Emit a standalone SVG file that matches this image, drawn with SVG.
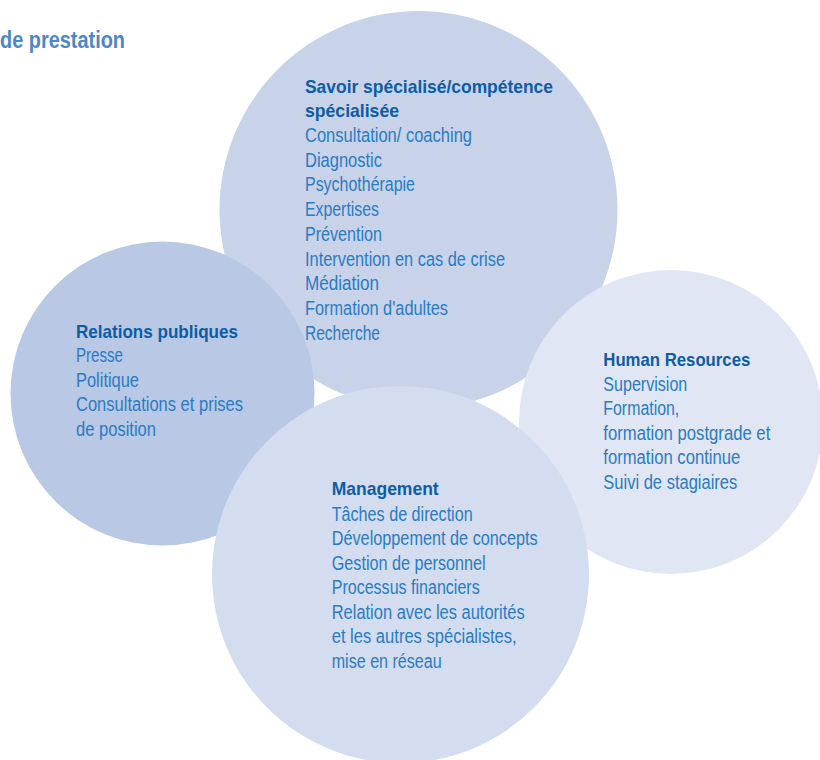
<svg xmlns="http://www.w3.org/2000/svg" width="820" height="760" viewBox="0 0 820 760">
<style>
text { font-family: "Liberation Sans", Arial, sans-serif; }
.t { font-size: 23px; font-weight: bold; fill: #4d87c7; }
.h { font-size: 19px; font-weight: bold; fill: #0d5ca6; }
.b { font-size: 19.5px; fill: #2a7bc3; }
</style>
<rect width="820" height="760" fill="#ffffff"/>
<text class="t" x="0" y="47.5" textLength="125" lengthAdjust="spacingAndGlyphs">de prestation</text>
<g id="connectors"/>
<g id="node-savoir">
<circle cx="418.5" cy="210" r="199" fill="#c8d3ea"/>
<text class="h" x="305" y="92.7" textLength="248" lengthAdjust="spacingAndGlyphs">Savoir spécialisé/compétence</text>
<text class="h" x="305" y="117" textLength="94" lengthAdjust="spacingAndGlyphs">spécialisée</text>
<text class="b" x="305" y="141.7" textLength="167" lengthAdjust="spacingAndGlyphs">Consultation/ coaching</text>
<text class="b" x="305" y="166.5" textLength="77" lengthAdjust="spacingAndGlyphs">Diagnostic</text>
<text class="b" x="305" y="191.2" textLength="110" lengthAdjust="spacingAndGlyphs">Psychothérapie</text>
<text class="b" x="305" y="216" textLength="74" lengthAdjust="spacingAndGlyphs">Expertises</text>
<text class="b" x="305" y="240.7" textLength="77" lengthAdjust="spacingAndGlyphs">Prévention</text>
<text class="b" x="305" y="265.5" textLength="200" lengthAdjust="spacingAndGlyphs">Intervention en cas de crise</text>
<text class="b" x="305" y="290.2" textLength="74" lengthAdjust="spacingAndGlyphs">Médiation</text>
<text class="b" x="305" y="315" textLength="143" lengthAdjust="spacingAndGlyphs">Formation d'adultes</text>
<text class="b" x="305" y="339.5" textLength="75" lengthAdjust="spacingAndGlyphs">Recherche</text>
</g>
<g id="node-relations">
<circle cx="162.5" cy="393.5" r="152" fill="#b9c8e4"/>
<text class="h" x="76" y="337.7" textLength="162" lengthAdjust="spacingAndGlyphs">Relations publiques</text>
<text class="b" x="76" y="361.7" textLength="47" lengthAdjust="spacingAndGlyphs">Presse</text>
<text class="b" x="76" y="386.5" textLength="63" lengthAdjust="spacingAndGlyphs">Politique</text>
<text class="b" x="76" y="411" textLength="167" lengthAdjust="spacingAndGlyphs">Consultations et prises</text>
<text class="b" x="76" y="435.5" textLength="80" lengthAdjust="spacingAndGlyphs">de position</text>
</g>
<g id="node-hr">
<circle cx="671" cy="422" r="152" fill="#e0e6f3"/>
<text class="h" x="603.3" y="366" textLength="147" lengthAdjust="spacingAndGlyphs">Human Resources</text>
<text class="b" x="603.3" y="390.7" textLength="84" lengthAdjust="spacingAndGlyphs">Supervision</text>
<text class="b" x="603.3" y="415.3" textLength="76" lengthAdjust="spacingAndGlyphs">Formation,</text>
<text class="b" x="603.3" y="439.5" textLength="167" lengthAdjust="spacingAndGlyphs">formation postgrade et</text>
<text class="b" x="603.3" y="464" textLength="137" lengthAdjust="spacingAndGlyphs">formation continue</text>
<text class="b" x="603.3" y="488.7" textLength="134" lengthAdjust="spacingAndGlyphs">Suivi de stagiaires</text>
</g>
<g id="node-management">
<circle cx="400.5" cy="574.5" r="188.5" fill="#d3ddef"/>
<text class="h" x="331.7" y="495.3" textLength="107" lengthAdjust="spacingAndGlyphs">Management</text>
<text class="b" x="331.7" y="520.5" textLength="141" lengthAdjust="spacingAndGlyphs">Tâches de direction</text>
<text class="b" x="331.7" y="545" textLength="206" lengthAdjust="spacingAndGlyphs">Développement de concepts</text>
<text class="b" x="331.7" y="569.7" textLength="154" lengthAdjust="spacingAndGlyphs">Gestion de personnel</text>
<text class="b" x="331.7" y="594" textLength="148" lengthAdjust="spacingAndGlyphs">Processus financiers</text>
<text class="b" x="331.7" y="618.5" textLength="193" lengthAdjust="spacingAndGlyphs">Relation avec les autorités</text>
<text class="b" x="331.7" y="643.2" textLength="185" lengthAdjust="spacingAndGlyphs">et les autres spécialistes,</text>
<text class="b" x="331.7" y="667.5" textLength="110" lengthAdjust="spacingAndGlyphs">mise en réseau</text>
</g>
</svg>
